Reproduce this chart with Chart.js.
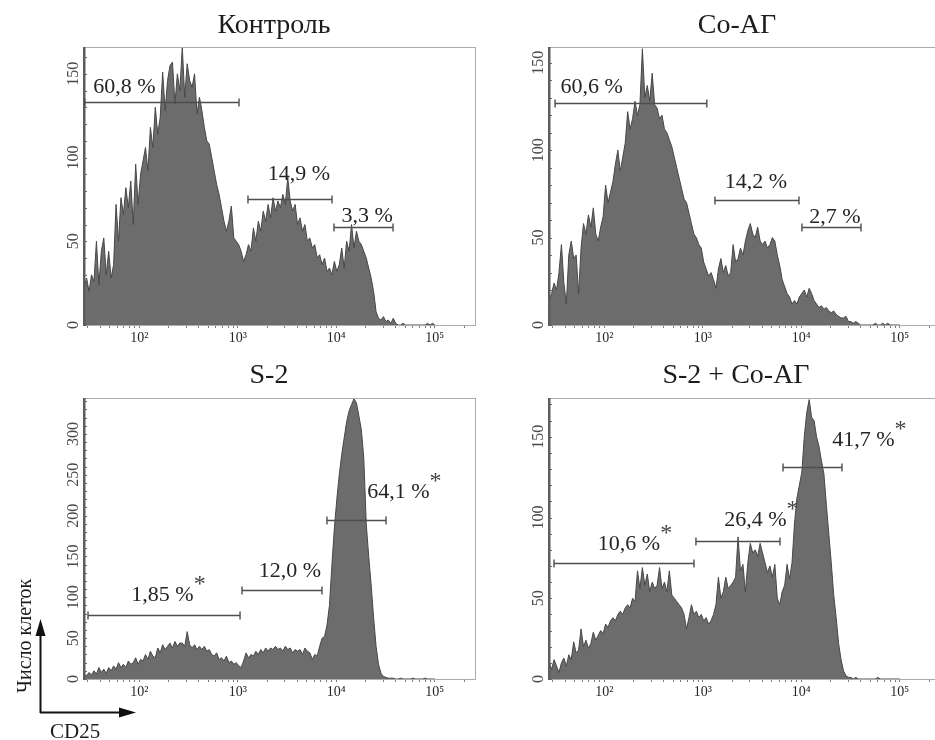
<!DOCTYPE html>
<html lang="ru">
<head>
<meta charset="utf-8">
<title>CD25</title>
<script src="https://cdn.jsdelivr.net/npm/chart.js@4.4.1/dist/chart.umd.min.js"></script>
<style>
  html, body { margin: 0; padding: 0; background: #fff; }
  body { width: 935px; height: 740px; overflow: hidden; position: relative; }
  .panel { position: absolute; }
  #overlay { position: absolute; left: 0; top: 0; pointer-events: none; }
  #overlay text { font-family: 'Liberation Serif', 'DejaVu Serif', serif; fill: #1c1c1c; }
</style>
</head>
<body>

<canvas class="panel" id="pControl" width="480" height="346" style="left:0;top:0"></canvas>
<canvas class="panel" id="pCoAg" width="480" height="346" style="left:465px;top:0"></canvas>
<canvas class="panel" id="pS2" width="480" height="348" style="left:0;top:352px"></canvas>
<canvas class="panel" id="pS2CoAg" width="480" height="348" style="left:465px;top:352px"></canvas>

<svg id="overlay" width="935" height="740">
  <text x="274" y="33" font-size="28" text-anchor="middle">Контроль</text>
  <text x="737" y="33" font-size="28" text-anchor="middle">Со-АГ</text>
  <text x="269" y="383" font-size="28" text-anchor="middle">S-2</text>
  <text x="736" y="383" font-size="28" text-anchor="middle">S-2 + Со-АГ</text>

  <!-- axis legend in the corner -->
  <line x1="40.5" y1="713" x2="40.5" y2="632" stroke="#111" stroke-width="2"/>
  <polygon points="40.5,619 35.5,636 45.5,636" fill="#111"/>
  <line x1="40" y1="712.5" x2="122" y2="712.5" stroke="#111" stroke-width="2"/>
  <polygon points="136,712.5 119,707.5 119,717.5" fill="#111"/>
  <text transform="translate(31,693) rotate(-90)" font-size="20">Число клеток</text>
  <text x="50" y="738" font-size="21">CD25</text>
</svg>

<script>
// CD25 histograms: cell counts per fluorescence channel.
// Channels are evenly spaced in log10 units starting at firstChannel.
const firstChannel = 1.441;
const channelWidth = 0.0249;

const decadeTicks = [100, 1000, 10000, 100000];
const decadeLabels = ['10²', '10³', '10⁴', '10⁵'];

const countsControl = [
  22, 28, 20, 30,   26, 50, 24, 44,   52, 30, 44, 28,   36, 72, 50, 76,
  66, 82, 70, 86,   60, 96, 72, 90,   98, 106, 92, 118, 106, 130, 114, 124,
  151, 128, 146, 155, 157, 132, 150, 140, 166, 136, 156, 146, 142, 150, 126, 136,
  128, 118, 110, 108, 100, 92, 84, 78, 70, 62, 56, 62,  71, 52, 50, 48,
  44, 38, 42, 48,   44, 58, 50, 62,   56, 68, 62, 72,   64, 76, 68, 74,
  70, 78, 72, 88,   74, 68, 72, 60,   64, 56, 60, 50,   52, 46, 48, 40,
  42, 36, 40, 32,   34, 30, 38, 32,   36, 46, 34, 50,   44, 60, 46, 56,
  50, 48, 44, 40,   34, 28, 20, 8,    4, 3, 5, 2,       3, 1, 4, 1,
  0, 0, 1, 0,       0, 0, 0, 0,       0, 0, 0, 0,       1, 0, 1, 0
];

const countsCoAg = [
  14, 18, 24, 20,   30, 46, 24, 12,   40, 48, 38, 40,   18, 44, 58, 52,
  63, 56, 67, 52,   48, 56, 62, 80,   70, 76, 82, 92,   100, 88, 96, 104,
  122, 112, 118, 128, 120, 126, 158, 130, 137, 128, 144, 126, 124, 118, 120, 112,
  110, 106, 102, 96, 90, 84, 78, 72,  70, 64, 58, 52,   50, 46, 44, 36,
  32, 28, 30, 26,   21, 32, 38, 30,   34, 28, 30, 46,   36, 38, 44, 40,
  48, 54, 58, 52,   50, 56, 48, 46,   48, 44, 46, 50,   48, 40, 34, 26,
  22, 18, 16, 12,   14, 12, 16, 18,   20, 16, 21, 18,   14, 12, 10, 11,
  9, 10, 8, 7,      8, 6, 5, 4,       4, 5, 2, 2,       1, 2, 1, 0,
  0, 0, 0, 0,       0, 1, 0, 0,       1, 0, 1, 0,       0, 0, 0, 0
];

const countsS2 = [
  6, 4, 8, 5,       10, 6, 14, 8,     12, 7, 14, 10,    16, 12, 20, 14,
  18, 14, 22, 18,   20, 26, 18, 24,   22, 30, 24, 34,   28, 26, 38, 32,
  42, 36, 40, 44,   38, 46, 40, 44,   44, 40, 58, 42,   38, 42, 36, 40,
  36, 40, 34, 36,   30, 28, 32, 24,   26, 22, 28, 20,   22, 18, 20, 16,
  14, 22, 32, 26,   30, 28, 34, 30,   36, 32, 38, 34,   38, 36, 40, 36,
  38, 34, 40, 36,   38, 32, 36, 34,   36, 30, 38, 34,   32, 24, 30, 28,
  40, 50, 52, 66,   90, 140, 185, 220, 250, 275, 295, 315, 328, 336, 343, 338,
  322, 305, 270, 190, 150, 115, 75, 40, 18, 7, 3, 2,    1, 1, 1, 0,
  0, 1, 0, 0,       0, 0, 1, 0,       0, 0, 0, 1,       0, 0, 0, 0
];

const countsS2CoAg = [
  10, 6, 12, 8,     4, 10, 13, 8,     15, 12, 23, 16,   18, 31, 20, 24,
  19, 22, 29, 24,   27, 30, 28, 34,   32, 36, 38, 36,   40, 42, 40, 44,
  46, 44, 50, 48,   67, 56, 69, 58,   65, 54, 60, 56,   58, 69, 56, 60,
  54, 67, 52, 50,   48, 46, 44, 40,   31, 38, 46, 40,   42, 38, 40, 36,
  38, 34, 36, 40,   46, 63, 50, 54,   63, 56, 58, 60,   63, 88, 67, 71,
  54, 72, 84, 78,   80, 76, 84, 78,   72, 66, 70, 63,   71, 50, 46, 54,
  58, 71, 62, 72,   96, 112, 120, 128, 150, 165, 173, 162, 160, 150, 144, 135,
  127, 108, 90, 72, 52, 38, 22, 12,  5, 2, 1, 1,       0, 1, 0, 0,
  0, 0, 0, 0,       0, 0, 1, 0,       0, 0, 0, 0,       0, 0, 0, 0
];

// Marker gates: [from, to, count level]
const gatesControl = [[28, 1030, 133], [1270, 9060, 75], [9480, 37700, 58.5]];
const gateTextControl = ['60,8 %', '14,9 %', '3,3 %'];
const gatesCoAg = [[31.7, 1100, 127], [1330, 9480, 71.5], [10160, 40400, 56.3]];
const gateTextCoAg = ['60,6 %', '14,2 %', '2,7 %'];
const gatesS2 = [[30.2, 1055, 78.2], [1105, 7160, 108.6], [8050, 32000, 194.8]];
const gateTextS2 = ['1,85 %', '12,0 %', '64,1 %'];
const gatesS2CoAg = [[30.9, 815, 72], [853, 6080, 85.6], [6530, 25900, 131]];
const gateTextS2CoAg = ['10,6 %', '26,4 %', '41,7 %'];
// significant differences from control
const starsS2 = [true, false, true];
const starsS2CoAg = [true, true, true];

const serif = "'Liberation Serif', 'DejaVu Serif', serif";

// log axis tick marks: every integer multiple inside each decade
const xMin = 27.5, xMax = 262144;
const axisTicks = [];
[10, 100, 1000, 10000, 100000].forEach(d => {
  for (let m = 1; m <= 9; m++) {
    const v = m * d;
    if (v >= xMin && v <= xMax) axisTicks.push(v);
  }
});

// light frame, dark count-axis spine with small inward ticks
const framePlugin = {
  id: 'frame',
  afterDatasetsDraw(chart) {
    const { ctx, chartArea: a, scales: { y } } = chart;
    ctx.save();
    ctx.strokeStyle = '#acacac';
    ctx.lineWidth = 1;
    ctx.strokeRect(a.left + 0.5, a.top + 0.5, a.right - a.left - 1, a.bottom - a.top);
    ctx.strokeStyle = '#6a6a6a';
    y.ticks.forEach(t => {
      const py = Math.round(y.getPixelForValue(t.value)) + 0.5;
      ctx.beginPath();
      ctx.moveTo(a.left, py);
      ctx.lineTo(a.left + 3, py);
      ctx.stroke();
    });
    ctx.fillStyle = '#5c5c5c';
    ctx.fillRect(a.left - 1, a.top, 2.5, a.bottom - a.top + 1);
    ctx.restore();
  }
};

function gatePlugin(gates, texts, offsets, stars) {
  return {
    id: 'gates',
    afterDatasetsDraw(chart) {
      const { ctx, scales: { x, y } } = chart;
      ctx.save();
      gates.forEach((g, i) => {
        const x1 = x.getPixelForValue(g[0]);
        const x2 = x.getPixelForValue(g[1]);
        const py = Math.round(y.getPixelForValue(g[2])) + 0.5;
        ctx.strokeStyle = '#4e4e4e';
        ctx.lineWidth = 1.4;
        ctx.beginPath();
        ctx.moveTo(x1, py); ctx.lineTo(x2, py);
        ctx.moveTo(x1, py - 4); ctx.lineTo(x1, py + 4);
        ctx.moveTo(x2, py - 4); ctx.lineTo(x2, py + 4);
        ctx.stroke();

        const cx = (x1 + x2) / 2 + offsets[i][0];
        const by = py + offsets[i][1];
        ctx.font = '22px ' + serif;
        ctx.fillStyle = '#242424';
        ctx.textAlign = 'center';
        ctx.textBaseline = 'alphabetic';
        ctx.fillText(texts[i], cx, by);
        if (stars && stars[i]) {
          const w = ctx.measureText(texts[i]).width;
          ctx.font = '24px ' + serif;
          ctx.fillStyle = '#444';
          ctx.fillText('*', cx + w / 2 + 6, by - 10);
        }
      });
      ctx.restore();
    }
  };
}

function histogram(id, counts, yMax, padTop, gatePlug) {
  const points = counts.map((c, i) => ({ x: 10 ** (firstChannel + i * channelWidth), y: c }));
  return new Chart(document.getElementById(id), {
    type: 'line',
    data: {
      datasets: [{
        data: points,
        fill: 'origin',
        backgroundColor: '#6c6c6c',
        borderColor: '#474747',
        borderWidth: 1,
        pointRadius: 0,
        tension: 0
      }]
    },
    options: {
      responsive: false,
      animation: false,
      events: [],
      layout: { padding: { top: padTop, right: 4, left: 0, bottom: 0 } },
      plugins: { legend: { display: false }, tooltip: { enabled: false } },
      scales: {
        x: {
          type: 'logarithmic',
          min: xMin,
          max: xMax,
          afterBuildTicks: s => { s.ticks = axisTicks.map(v => ({ value: v })); },
          afterFit: s => { s.height = 21; },
          border: { display: false },
          grid: { drawOnChartArea: false, drawTicks: true, tickLength: 3, tickColor: '#7a7a7a' },
          ticks: {
            autoSkip: false,
            maxRotation: 0,
            padding: 2,
            color: '#262626',
            font: { family: serif, size: 14 },
            callback: v => {
              const k = decadeTicks.indexOf(v);
              return k < 0 ? '' : decadeLabels[k];
            }
          }
        },
        y: {
          min: 0,
          max: yMax,
          afterBuildTicks: s => {
            const t = [];
            for (let v = 0; v <= yMax; v += 10) t.push({ value: v });
            s.ticks = t;
          },
          afterFit: s => { s.width = 84; },
          border: { display: false },
          grid: { display: false },
          ticks: {
            minRotation: 90,
            maxRotation: 90,
            crossAlign: 'center',
            padding: -10,
            autoSkip: false,
            color: '#4a4a4a',
            font: { family: serif, size: 16 },
            callback: v => (v % 50 === 0 ? String(v) : '')
          }
        }
      }
    },
    plugins: [framePlugin, gatePlug]
  });
}

histogram('pControl', countsControl, 166, 47,
  gatePlugin(gatesControl, gateTextControl, [[-37.5, -9.4], [8.8, -20], [3.7, -5.3]], null));
histogram('pCoAg', countsCoAg, 159, 47,
  gatePlugin(gatesCoAg, gateTextCoAg, [[-39.3, -11], [-1, -12.3], [3.5, -5]], null));
histogram('pS2', countsS2, 344, 46,
  gatePlugin(gatesS2, gateTextS2, [[-1.5, -14.7], [8, -13.3], [41.8, -22.7]], starsS2));
histogram('pS2CoAg', countsS2CoAg, 174, 46,
  gatePlugin(gatesS2CoAg, gateTextS2CoAg, [[5, -13.3], [17.5, -15.7], [50.8, -21.3]], starsS2CoAg));
</script>
</body>
</html>
